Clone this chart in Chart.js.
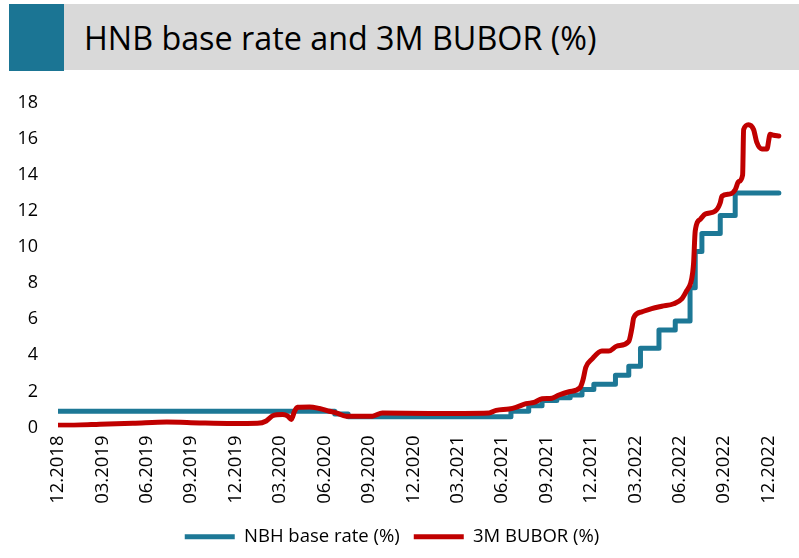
<!DOCTYPE html>
<html>
<head>
<meta charset="utf-8">
<script src="https://cdn.jsdelivr.net/npm/chart.js@4.4.0/dist/chart.umd.min.js"></script>
<style>
  body { margin: 0; width: 799px; height: 558px; background: #fff; position: relative; overflow: hidden; font-family: 'Open Sans', sans-serif; }
  .band { position: absolute; left: 9px; top: 4px; width: 790px; height: 66px; background: #d9d9d9; }
  .square { position: absolute; left: 9px; top: 4px; width: 55px; height: 67px; background: #1b7594; }
  .title { position: absolute; left: 84px; top: 4px; height: 66px; line-height: 66px; font-size: 32.3px; color: #000; white-space: nowrap; }
  .wrap { position: absolute; left: 0; top: 72px; width: 799px; height: 486px; }
</style>
</head>
<body>
<div class="band"></div>
<div class="square"></div>
<div class="title">HNB base rate and 3M BUBOR (%)</div>
<div class="wrap"><canvas id="rateChart"></canvas></div>
<script>
// x positions are months counted from the start of 12.2018
const tickLabels = ['12.2018', '03.2019', '06.2019', '09.2019', '12.2019', '03.2020', '06.2020',
  '09.2020', '12.2020', '03.2021', '06.2021', '09.2021', '12.2021', '03.2022', '06.2022', '09.2022', '12.2022'];

// NBH base rate: month where each new level starts, and the level
const baseRateMonths = [0, 18.7, 19.6, 30.6, 31.8, 32.7, 33.7, 34.6, 35.4, 36.2, 37.66, 38.56,
  39.35, 40.6, 41.7, 42.7, 43.05, 43.5, 44.74, 45.75, 48.7];
const baseRateValues = [0.9, 0.75, 0.6, 0.9, 1.2, 1.5, 1.65, 1.8, 2.1, 2.4, 2.9, 3.4,
  4.4, 5.4, 5.9, 7.75, 9.75, 10.75, 11.75, 13, 13];

// 3M BUBOR
const buborMonths = [0, 1.5, 2.83, 5.06, 7.35, 9.57, 11.8, 13.48, 14.07, 14.5,
  15.17, 15.5, 15.76, 15.98, 16.18, 16.99, 17.66, 18.34, 18.79, 19.46,
  21.24, 21.91, 25.08, 29.12, 29.6, 30.47, 30.94, 31.62, 32.16, 32.7,
  33.37, 33.84, 34.52, 35.26, 35.46, 35.66, 36.07, 36.74, 37.21, 37.75,
  38.56, 38.77, 38.9, 39.44, 40.11, 40.79, 41.6, 42.14, 42.47, 42.74,
  42.88, 42.94, 43.05, 43.4, 43.73, 44.41, 44.74, 44.85, 45.42, 45.75,
  45.98, 46.25, 46.32, 46.65, 46.99, 47.21, 47.55, 47.89, 48.11, 48.34, 48.7];
const buborValues = [0.12, 0.14, 0.18, 0.23, 0.3, 0.25, 0.22, 0.23, 0.36, 0.65,
  0.72, 0.65, 0.45, 0.9, 1.12, 1.14, 1.05, 0.9, 0.81, 0.63,
  0.63, 0.8, 0.78, 0.81, 0.95, 1.03, 1.12, 1.32, 1.39, 1.59,
  1.62, 1.8, 1.98, 2.2, 2.62, 3.34, 3.79, 4.24, 4.24, 4.51,
  4.78, 5.5, 6.1, 6.41, 6.59, 6.72, 6.86, 7.13, 7.58, 8.0,
  8.6, 9.12, 10.9, 11.55, 11.83, 12.0, 12.46, 12.82, 12.95, 13.18,
  13.63, 14.0, 16.52, 16.79, 16.52, 15.8, 15.44, 15.44, 16.25, 16.2, 16.16];

const toPoints = (xs, ys) => xs.map((x, i) => ({ x: x, y: ys[i] }));

Chart.defaults.font.family = "'Open Sans', sans-serif";
Chart.defaults.font.size = 18;
Chart.defaults.color = '#000';

new Chart(document.getElementById('rateChart'), {
  type: 'line',
  data: {
    datasets: [
      {
        // listed first so it is painted over the base rate
        label: '3M BUBOR (%)',
        data: toPoints(buborMonths, buborValues),
        borderColor: '#c00000',
        backgroundColor: '#c00000',
        borderWidth: 5,
        borderCapStyle: 'round',
        borderJoinStyle: 'round',
        pointRadius: 0,
        cubicInterpolationMode: 'monotone'
      },
      {
        label: 'NBH base rate (%)',
        data: toPoints(baseRateMonths, baseRateValues),
        borderColor: '#1d7896',
        backgroundColor: '#1d7896',
        borderWidth: 5,
        borderCapStyle: 'round',
        borderJoinStyle: 'round',
        pointRadius: 0,
        stepped: true
      }
    ]
  },
  options: {
    responsive: true,
    maintainAspectRatio: false,
    animation: false,
    layout: { padding: { left: 0, right: 15, top: 24, bottom: 2 } },
    plugins: {
      tooltip: { enabled: false },
      legend: {
        position: 'bottom',
        reverse: true,
        labels: {
          usePointStyle: true,
          pointStyle: 'line',
          pointStyleWidth: 50,
          boxWidth: 50,
          padding: 14,
          color: '#000',
          font: { size: 18.5 }
        }
      }
    },
    scales: {
      x: {
        type: 'linear',
        min: 0,
        max: 48.95,
        grid: { display: false, drawTicks: false },
        border: { display: false },
        afterBuildTicks: s => { s.ticks = tickLabels.map((l, i) => ({ value: i * 3 })); },
        afterFit: s => { s.height = 86; },
        ticks: {
          autoSkip: false,
          minRotation: 90,
          maxRotation: 90,
          padding: 8,
          color: '#000',
          font: { size: 18.5 },
          callback: v => tickLabels[Math.round(v / 3)]
        }
      },
      y: {
        min: 0,
        max: 18,
        grid: { display: false, drawTicks: false },
        border: { display: false },
        afterFit: s => { s.width = 58; },
        ticks: { stepSize: 2, padding: 20, color: '#000' }
      }
    }
  }
});
</script>
</body>
</html>
